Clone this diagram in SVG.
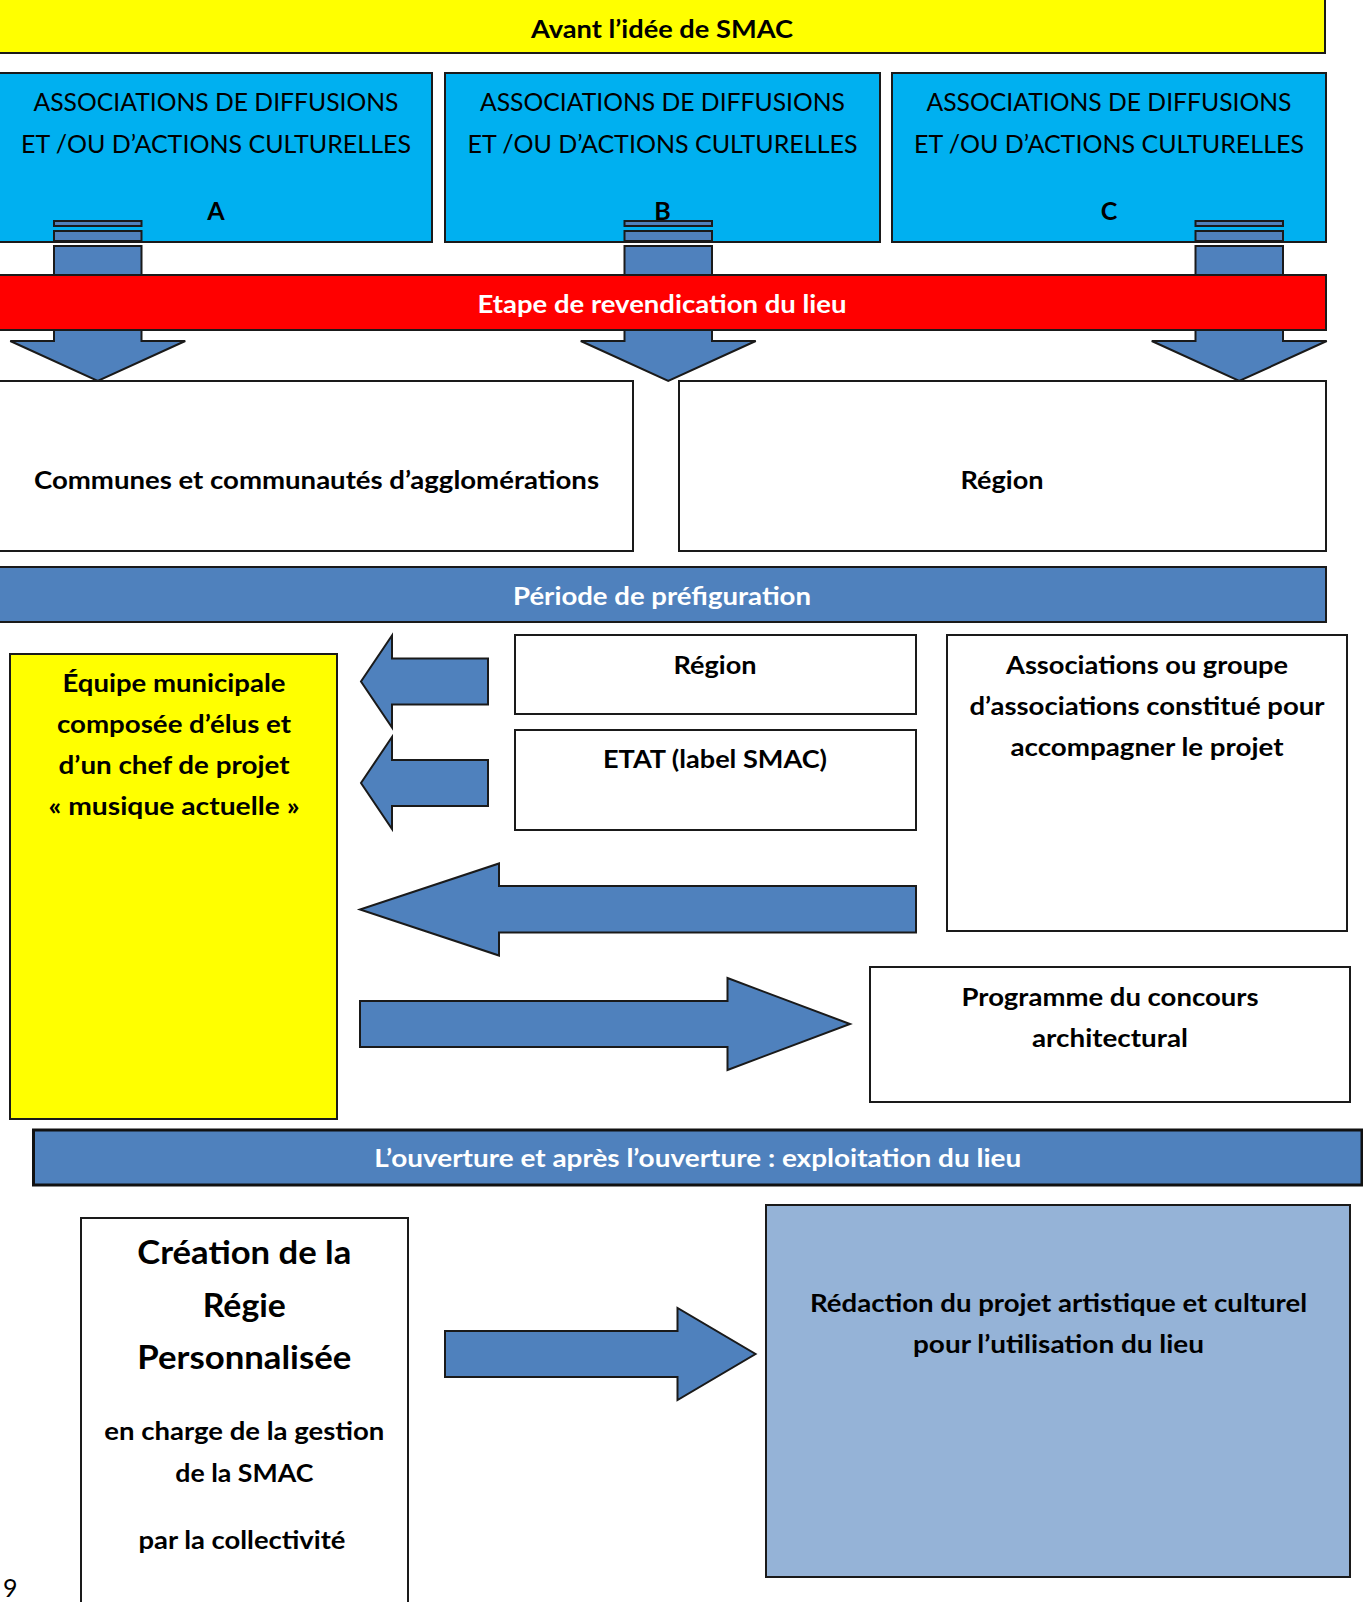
<svg xmlns="http://www.w3.org/2000/svg" width="1363" height="1602" viewBox="0 0 1363 1602">
<style>
  .bx{stroke:#1a1a1a;stroke-width:2}
  .w{fill:#ffffff}
  .yel{fill:#ffff00}
  .cy{fill:#00b0f0}
  .red{fill:#ff0000}
  .mb{fill:#4f81bd}
  .lb{fill:#95b3d7}
  .ar{fill:#4f81bd;stroke:#1a1a1a;stroke-width:2;stroke-linejoin:miter}
  text{font-family:Lato,"Open Sans","Liberation Sans",sans-serif;font-size:25px;text-anchor:middle;fill:#000}
  .bd{font-weight:bold}
  .wt{fill:#ffffff}
  .big{font-size:31.5px}
</style>

<g id="avant">
  <rect class="bx yel" x="-1" y="-1" width="1326" height="54"/>
  <text class="bd" x="662" y="38" textLength="262" lengthAdjust="spacingAndGlyphs">Avant l’idée de SMAC</text>
</g>

<g id="assoc-a">
  <rect class="bx cy" x="-2" y="73" width="434" height="169"/>
  <text x="216" y="111" textLength="365" lengthAdjust="spacingAndGlyphs">ASSOCIATIONS DE DIFFUSIONS</text>
  <text x="216" y="153" textLength="390" lengthAdjust="spacingAndGlyphs">ET /OU D’ACTIONS CULTURELLES</text>
  <text class="bd" x="216" y="220">A</text>
</g>
<g id="assoc-b">
  <rect class="bx cy" x="445" y="73" width="435" height="169"/>
  <text x="662.5" y="111" textLength="365" lengthAdjust="spacingAndGlyphs">ASSOCIATIONS DE DIFFUSIONS</text>
  <text x="662.5" y="153" textLength="390" lengthAdjust="spacingAndGlyphs">ET /OU D’ACTIONS CULTURELLES</text>
  <text class="bd" x="662.5" y="220">B</text>
</g>
<g id="assoc-c">
  <rect class="bx cy" x="892" y="73" width="434" height="169"/>
  <text x="1109" y="111" textLength="365" lengthAdjust="spacingAndGlyphs">ASSOCIATIONS DE DIFFUSIONS</text>
  <text x="1109" y="153" textLength="390" lengthAdjust="spacingAndGlyphs">ET /OU D’ACTIONS CULTURELLES</text>
  <text class="bd" x="1109" y="220">C</text>
</g>

<g id="connectors">
  <rect class="ar" x="54" y="221" width="87.5" height="5"/>
  <rect class="ar" x="54" y="231" width="87.5" height="10"/>
  <polygon class="ar" points="54,246 141.5,246 141.5,341 185.25,341 97.75,381 10.25,341 54,341"/>
  <rect class="ar" x="624.5" y="221" width="87.5" height="5"/>
  <rect class="ar" x="624.5" y="231" width="87.5" height="10"/>
  <polygon class="ar" points="624.5,246 712,246 712,341 755.75,341 668.25,381 580.75,341 624.5,341"/>
  <rect class="ar" x="1195.5" y="221" width="87.5" height="5"/>
  <rect class="ar" x="1195.5" y="231" width="87.5" height="10"/>
  <polygon class="ar" points="1195.5,246 1283,246 1283,341 1326.75,341 1239.25,381 1151.75,341 1195.5,341"/>
  <polygon class="ar" points="488,658.5 392,658.5 392,635.5 361,681.5 392,727.5 392,704.5 488,704.5"/>
  <polygon class="ar" points="488,760 392,760 392,737 361,783 392,829 392,806 488,806"/>
  <polygon class="ar" points="916,886 499,886 499,863.5 360,909.5 499,955.5 499,932.5 916,932.5"/>
  <polygon class="ar" points="360,1001 727.5,1001 727.5,978 850,1024 727.5,1070 727.5,1047 360,1047"/>
  <polygon class="ar" points="445,1331 677.5,1331 677.5,1308 755.5,1354 677.5,1400 677.5,1377 445,1377"/>
</g>

<g id="revendication">
  <rect class="bx red" x="-1" y="275" width="1327" height="55"/>
  <text class="bd wt" x="662" y="313" textLength="369" lengthAdjust="spacingAndGlyphs">Etape de revendication du lieu</text>
</g>

<g id="communes">
  <rect class="bx w" x="-2" y="381" width="635" height="170"/>
  <text class="bd" x="316.5" y="489" textLength="565" lengthAdjust="spacingAndGlyphs">Communes et communautés d’agglomérations</text>
</g>
<g id="region-1">
  <rect class="bx w" x="679" y="381" width="647" height="170"/>
  <text class="bd" x="1002" y="489" textLength="83" lengthAdjust="spacingAndGlyphs">Région</text>
</g>

<g id="prefiguration">
  <rect class="bx mb" x="-1" y="567" width="1327" height="55"/>
  <text class="bd wt" x="662" y="605" textLength="298" lengthAdjust="spacingAndGlyphs">Période de préfiguration</text>
</g>

<g id="equipe">
  <rect class="bx yel" x="10" y="654" width="327" height="465"/>
  <text class="bd" x="174" y="692" textLength="223" lengthAdjust="spacingAndGlyphs">Équipe municipale</text>
  <text class="bd" x="174" y="733" textLength="234" lengthAdjust="spacingAndGlyphs">composée d’élus et</text>
  <text class="bd" x="174" y="774" textLength="231" lengthAdjust="spacingAndGlyphs">d’un chef de projet</text>
  <text class="bd" x="174" y="815" textLength="251" lengthAdjust="spacingAndGlyphs">« musique actuelle »</text>
</g>

<g id="region-2">
  <rect class="bx w" x="515" y="635" width="401" height="79"/>
  <text class="bd" x="715" y="674" textLength="83" lengthAdjust="spacingAndGlyphs">Région</text>
</g>
<g id="etat">
  <rect class="bx w" x="515" y="730" width="401" height="100"/>
  <text class="bd" x="715" y="768" textLength="224" lengthAdjust="spacingAndGlyphs">ETAT (label SMAC)</text>
</g>
<g id="associations">
  <rect class="bx w" x="947" y="635" width="400" height="296"/>
  <text class="bd" x="1147" y="674" textLength="282" lengthAdjust="spacingAndGlyphs">Associations ou groupe</text>
  <text class="bd" x="1147" y="715" textLength="355" lengthAdjust="spacingAndGlyphs">d’associations constitué pour</text>
  <text class="bd" x="1147" y="756" textLength="273" lengthAdjust="spacingAndGlyphs">accompagner le projet</text>
</g>
<g id="programme">
  <rect class="bx w" x="870" y="967" width="480" height="135"/>
  <text class="bd" x="1110" y="1006" textLength="297" lengthAdjust="spacingAndGlyphs">Programme du concours</text>
  <text class="bd" x="1110" y="1047" textLength="156" lengthAdjust="spacingAndGlyphs">architectural</text>
</g>

<g id="ouverture">
  <rect class="mb" x="33.5" y="1130" width="1328.5" height="55" stroke="#111" stroke-width="3"/>
  <text class="bd wt" x="697.7" y="1167" textLength="647" lengthAdjust="spacingAndGlyphs">L’ouverture et après l’ouverture : exploitation du lieu</text>
</g>

<g id="regie">
  <rect class="bx w" x="81" y="1218" width="327" height="400"/>
  <text class="bd big" x="244.3" y="1264" textLength="214" lengthAdjust="spacingAndGlyphs">Création de la</text>
  <text class="bd big" x="244.3" y="1317" textLength="83" lengthAdjust="spacingAndGlyphs">Régie</text>
  <text class="bd big" x="244.3" y="1369" textLength="214" lengthAdjust="spacingAndGlyphs">Personnalisée</text>
  <text class="bd" x="244.3" y="1440" textLength="280" lengthAdjust="spacingAndGlyphs">en charge de la gestion</text>
  <text class="bd" x="244.3" y="1482" textLength="138" lengthAdjust="spacingAndGlyphs">de la SMAC</text>
  <text class="bd" x="242" y="1549" textLength="207" lengthAdjust="spacingAndGlyphs">par la collectivité</text>
</g>

<g id="redaction">
  <rect class="bx lb" x="766" y="1205" width="584" height="372"/>
  <text class="bd" x="1058.5" y="1312" textLength="497" lengthAdjust="spacingAndGlyphs">Rédaction du projet artistique et culturel</text>
  <text class="bd" x="1058.5" y="1353" textLength="291" lengthAdjust="spacingAndGlyphs">pour l’utilisation du lieu</text>
</g>

<g id="page-number">
  <text x="3" y="1597" style="text-anchor:start">9</text>
</g>
</svg>
